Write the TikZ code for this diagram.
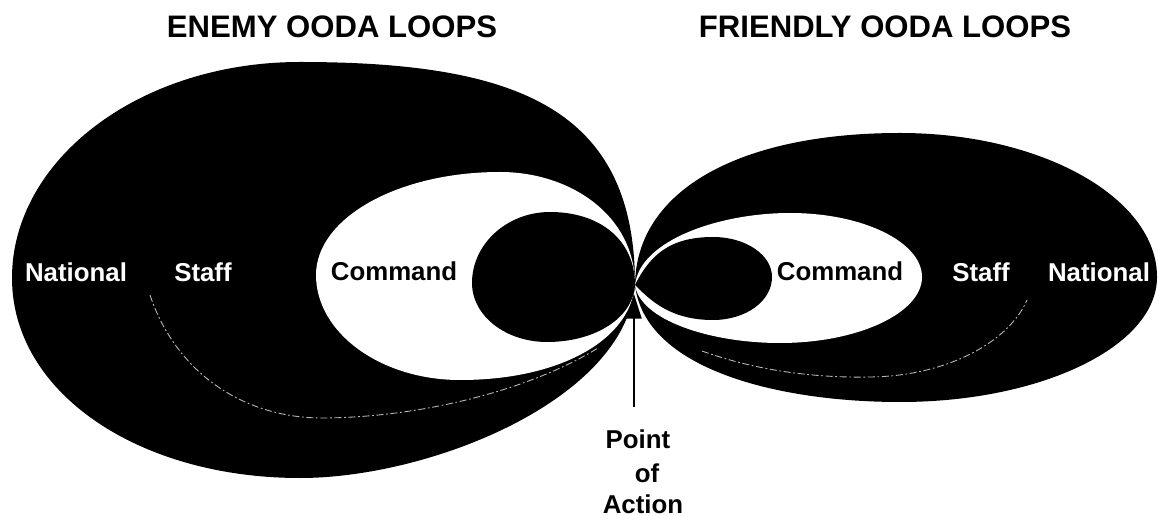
\documentclass[tikz,border=0pt]{standalone}
\usepackage{fontspec}
\setmainfont{Liberation Sans}
\usetikzlibrary{arrows.meta}
\begin{document}
\begin{tikzpicture}[x=0.02cm,y=-0.02cm,
  lbl/.style={font=\fontsize{14.7}{17}\selectfont\bfseries, inner sep=0pt, anchor=base},
  ttl/.style={font=\fontsize{17.7}{21}\selectfont\bfseries, inner sep=0pt, anchor=base},
  blackloop/.style={fill=black, draw=none},
  whiteloop/.style={fill=white, draw=none},
  staffline/.style={draw=gray!55, line width=0.5pt, dash pattern=on 4pt off 1.5pt on 1pt off 1.5pt},
  pointer/.style={line width=1.2pt, -{Triangle[length=14pt,width=8.5pt]}}]
\useasboundingbox (0,0) rectangle (1158,516);
\coordinate (P) at (635,285);
% ---------- enemy loops ----------
\path[blackloop] (P) .. controls (635,110) and (520,62) .. (300,62)
  .. controls (139,62) and (12,160) .. (12,278)
  .. controls (12,393) and (139,478) .. (300,478)
  .. controls (430,478) and (625,400) .. (P) -- cycle;
\path[whiteloop] (P) .. controls (635,215) and (570,172) .. (500,172)
  .. controls (398,172) and (316,218) .. (316,275)
  .. controls (316,333) and (381,380) .. (460,380)
  .. controls (560,380) and (630,340) .. (P) -- cycle;
\path[blackloop] (P) .. controls (635,240) and (600,212) .. (550,212)
  .. controls (507,212) and (472,244) .. (472,283)
  .. controls (472,316) and (506,342) .. (547,342)
  .. controls (595,342) and (633,318) .. (P) -- cycle;
% ---------- friendly loops ----------
\path[blackloop] (P) .. controls (636,190) and (740,133) .. (900,133)
  .. controls (1042,133) and (1157,198) .. (1157,277)
  .. controls (1157,346) and (1042,402) .. (900,402)
  .. controls (780,402) and (645,370) .. (P) -- cycle;
\path[whiteloop] (P) .. controls (640,240) and (720,213) .. (790,213)
  .. controls (863,213) and (922,242) .. (922,277)
  .. controls (922,313) and (858,343) .. (780,343)
  .. controls (710,343) and (640,320) .. (P) -- cycle;
\path[blackloop] (P) .. controls (650,255) and (670,237) .. (713,237)
  .. controls (746,237) and (772,255) .. (772,277)
  .. controls (772,301) and (746,320) .. (713,320)
  .. controls (670,320) and (650,300) .. (P) -- cycle;
% ---------- faint staff boundaries ----------
\path[staffline] (150,295) .. controls (175,370) and (240,417) .. (320,418)
  .. controls (420,418) and (530,390) .. (598,348);
\path[staffline] (702,351) .. controls (760,372) and (820,378) .. (870,377)
  .. controls (950,376) and (1010,340) .. (1027,300);
% ---------- texts ----------
\node[ttl] (tenemy) at (332,38) {ENEMY OODA LOOPS};
\node[ttl] (tfriend) at (885,38) {FRIENDLY OODA LOOPS};
\node[lbl,text=white] (lnat) at (76,282) {National};
\node[lbl,text=white] (lstaff) at (203,282) {Staff};
\node[lbl] (lcmd) at (394,281) {Command};
\node[lbl] (rcmd) at (840,281) {Command};
\node[lbl,text=white] (rstaff) at (981,282) {Staff};
\node[lbl,text=white] (rnat) at (1099,282) {National};
\node[lbl] (pt1) at (638,448) {Point};
\node[lbl] (pt2) at (647,482) {of};
\node[lbl] (pt3) at (643,513) {Action};
% ---------- arrow ----------
\coordinate (abot) at (634,407);
\coordinate (atip) at (634,294);
\draw[pointer] (abot) -- (atip);
\end{tikzpicture}
\end{document}
